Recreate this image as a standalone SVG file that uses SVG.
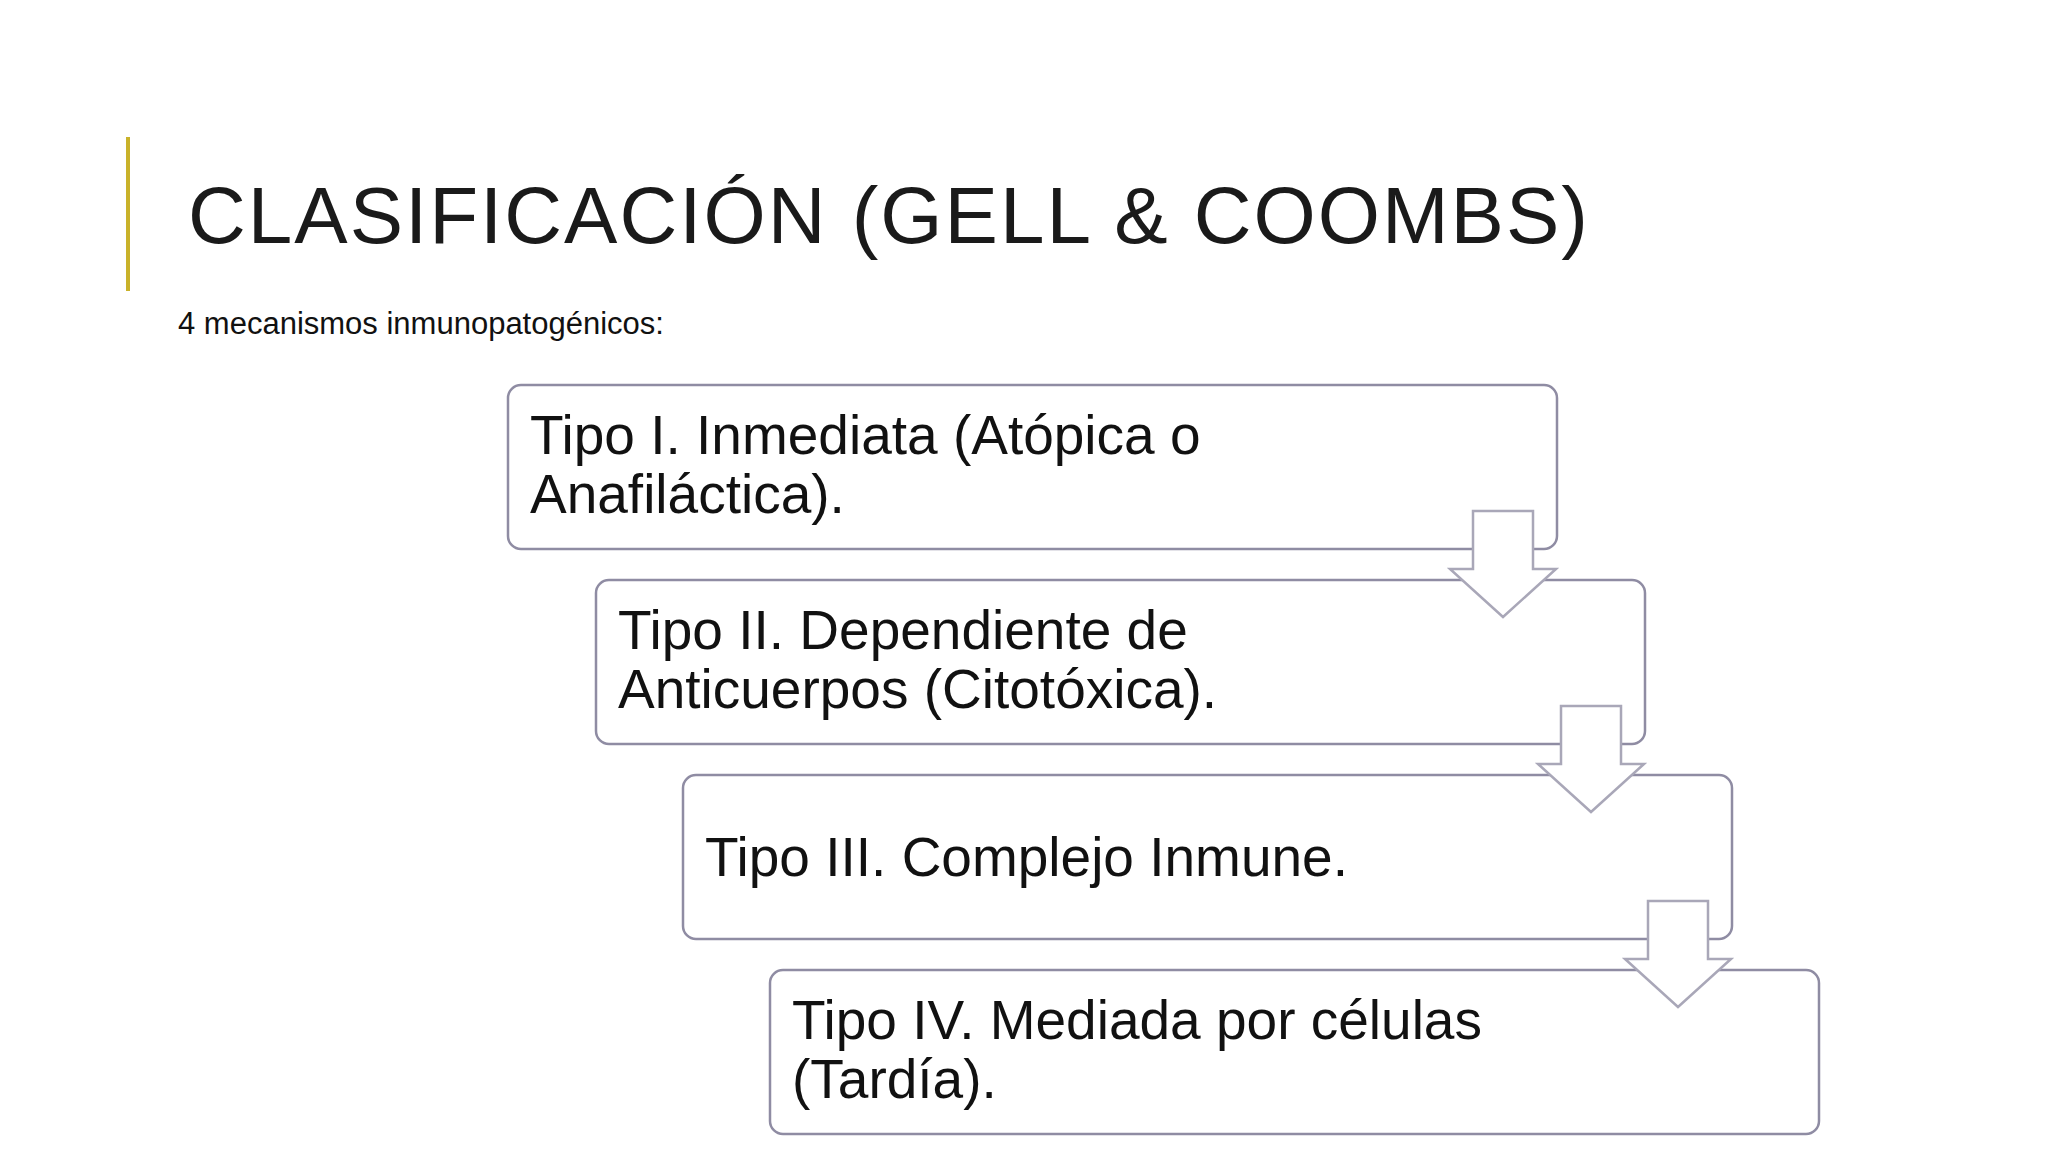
<svg xmlns="http://www.w3.org/2000/svg" width="2048" height="1152" viewBox="0 0 2048 1152">
<defs>
<style>
.box{fill:#fff;stroke:#8f8ca3;stroke-width:2.5}
.arr{fill:#fff;stroke:#a9a7b8;stroke-width:2.5;stroke-linejoin:miter}
.t{font-family:"Liberation Sans",Arial,sans-serif;font-size:55px;fill:#111}
</style>
</defs>
<rect width="2048" height="1152" fill="#fff"/>
<rect x="126" y="137" width="4" height="154" fill="#c9b22a"/>
<text x="188" y="243" font-family="Liberation Sans,Arial,sans-serif" font-size="80" letter-spacing="2" fill="#1a1a1a">CLASIFICACIÓN (GELL &amp; COOMBS)</text>
<text x="178" y="334" font-family="Liberation Sans,Arial,sans-serif" font-size="31" fill="#111">4 mecanismos inmunopatogénicos:</text>
<g id="n1"><rect class="box" x="508" y="385" width="1049" height="164" rx="13"/>
<text class="t" x="530" y="454">Tipo I. Inmediata (Atópica o</text><text class="t" x="530" y="513">Anafiláctica).</text></g>
<g id="n2"><rect class="box" x="596" y="580" width="1049" height="164" rx="13"/>
<text class="t" x="618" y="649">Tipo II. Dependiente de</text><text class="t" x="618" y="708">Anticuerpos (Citotóxica).</text></g>
<g id="n3"><rect class="box" x="683" y="775" width="1049" height="164" rx="13"/>
<text class="t" x="705" y="876">Tipo III. Complejo Inmune.</text></g>
<g id="n4"><rect class="box" x="770" y="970" width="1049" height="164" rx="13"/>
<text class="t" x="792" y="1039">Tipo IV. Mediada por células</text><text class="t" x="792" y="1098">(Tardía).</text></g>
<g id="connectors">
<path class="arr" d="M1473,511 H1533 V569 H1556 L1503,617 L1450,569 H1473 Z"/>
<path class="arr" d="M1561,706 H1621 V764 H1644 L1591,812 L1538,764 H1561 Z"/>
<path class="arr" d="M1648,901 H1708 V959 H1731 L1678,1007 L1625,959 H1648 Z"/>
</g>
</svg>
